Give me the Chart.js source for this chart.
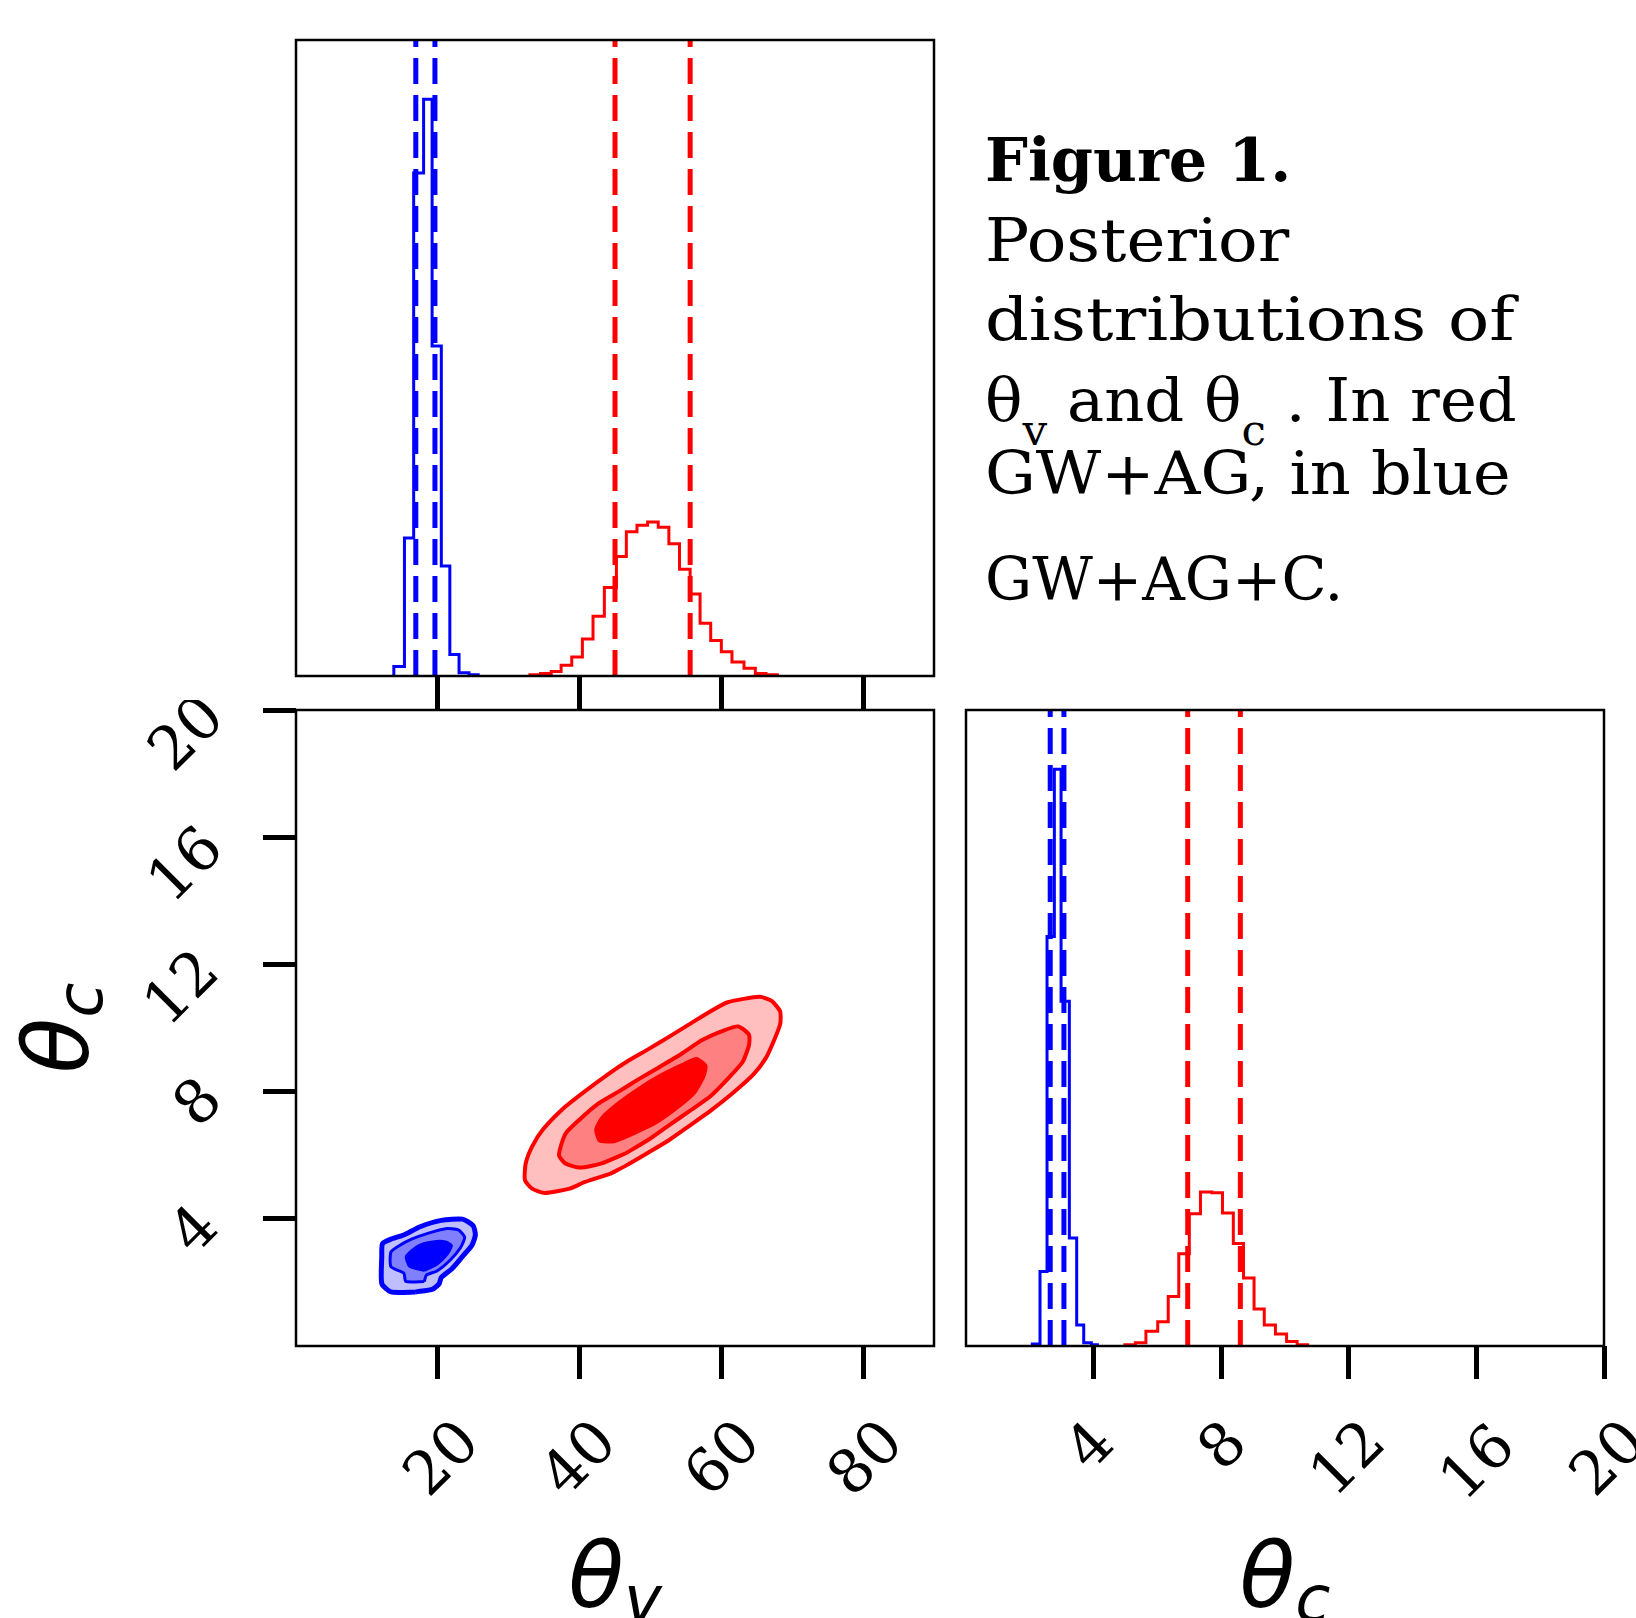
<!DOCTYPE html>
<html>
<head>
<meta charset="utf-8">
<script src="https://cdn.jsdelivr.net/npm/chart.js@4.4.1/dist/chart.umd.min.js"></script>
<style>
html, body { margin: 0; padding: 0; background: #fff; }
body { width: 1636px; height: 1618px; position: relative; overflow: hidden; }
canvas { position: absolute; }
.cap { position: absolute; left: 985px; white-space: nowrap; font-family: "DejaVu Serif"; font-size: 60px; line-height: 60px; color: #000; transform-origin: 0 0; }
.cap sub { font-size: 42px; position: relative; top: 24px; vertical-align: baseline; }
</style>
</head>
<body>
<canvas id="histV" width="946" height="710" style="left:0;top:0"></canvas>
<canvas id="joint" width="946" height="918" style="left:0;top:700px"></canvas>
<canvas id="histC" width="690" height="918" style="left:946px;top:700px"></canvas>

<div class="cap" data-w="306" style="top:130px;font-weight:bold">Figure 1.</div>
<div class="cap" data-w="304" style="top:210px">Posterior</div>
<div class="cap" data-w="530" style="top:289px">distributions of</div>
<div class="cap" data-w="532" style="top:370px">θ<sub>v</sub> and θ<sub>c</sub> . In red</div>
<div class="cap" data-w="526" style="top:443px">GW+AG, in blue</div>
<div class="cap" data-w="358" style="top:549px">GW+AG+C.</div>

<script>
// tick values
var thetaVTicks = [20, 40, 60, 80];
var thetaCTicks = [4, 8, 12, 16, 20];

// theta_v marginal histograms (bin edges, heights as fraction of panel height)
var tvBlueEdges = [13.8, 15.3, 16.6, 18.0, 19.2, 20.5, 21.7, 23.0, 24.4, 25.7];
var tvBlueHeights = [0.015, 0.217, 0.791, 0.907, 0.519, 0.173, 0.034, 0.005, 0.002];
var tvRedEdges = [33.0, 34.5, 36.0, 37.4, 38.9, 40.4, 41.9, 43.5, 45.2, 46.6, 48.1, 49.6,
                  51.1, 52.6, 54.1, 55.6, 57.0, 58.5, 60.0, 61.5, 63.2, 64.8, 66.3, 67.9];
var tvRedHeights = [0.002, 0.004, 0.007, 0.017, 0.030, 0.058, 0.094, 0.139, 0.188, 0.227, 0.237, 0.242,
                    0.234, 0.208, 0.168, 0.129, 0.083, 0.056, 0.038, 0.022, 0.012, 0.004, 0.002];

// theta_c marginal histograms
var tcBlueEdges = [2.08, 2.32, 2.54, 2.77, 2.98, 3.24, 3.47, 3.69, 3.93, 4.12];
var tcBlueHeights = [0.003, 0.117, 0.644, 0.907, 0.542, 0.170, 0.033, 0.005, 0.002];
var tcRedEdges = [4.98, 5.31, 5.64, 6.01, 6.34, 6.67, 7.00, 7.35, 7.71, 8.04, 8.38, 8.70,
                  9.03, 9.35, 9.70, 10.05, 10.38, 10.71];
var tcRedHeights = [0.002, 0.005, 0.023, 0.038, 0.078, 0.145, 0.208, 0.242, 0.241, 0.209, 0.161,
                    0.107, 0.058, 0.033, 0.019, 0.007, 0.002];

// quantile lines
var tvBlueQ = [16.9, 19.6];
var tvRedQ = [45.0, 55.6];
var tcBlueQ = [2.64, 3.07];
var tcRedQ = [6.95, 8.6];

// 2D credible contours [theta_v, theta_c]
var redOuter = [[44.3,5.41],[46.6,5.68],[49.6,6.07],[52.6,6.47],[55.6,6.94],[58.5,7.40],[61.5,7.93],
  [64.5,8.53],[66.3,9.06],[67.4,9.59],[68.3,10.12],[68.3,10.52],[67.1,10.85],[65.4,10.98],[60.9,10.81],
  [57.9,10.45],[55.0,10.05],[52.6,9.72],[49.6,9.32],[46.6,8.93],[44.3,8.59],[40.7,8.00],[37.7,7.47],
  [34.8,6.80],[33.3,6.27],[32.4,5.74],[32.3,5.21],[33.3,4.95],[35.1,4.81],[38.6,4.95],[40.7,5.15],[44.3,5.41]];
var redMid = [[46.6,6.07],[49.6,6.47],[52.6,6.94],[55.6,7.40],[58.5,7.86],[60.9,8.40],[63.0,8.93],
  [63.9,9.46],[63.9,9.79],[62.4,10.05],[60.3,9.92],[57.3,9.62],[54.4,9.19],[51.4,8.79],[48.4,8.40],
  [45.5,8.00],[42.5,7.60],[40.1,7.14],[38.0,6.67],[37.1,6.01],[38.0,5.74],[40.1,5.61],[43.1,5.74],[46.6,6.07]];
var redIn = [[47.8,6.67],[50.8,7.00],[53.8,7.47],[56.2,7.93],[57.6,8.46],[57.9,8.82],[56.5,9.06],
  [54.4,8.86],[51.4,8.53],[48.4,8.13],[45.5,7.67],[43.1,7.20],[42.2,6.80],[42.8,6.43],[44.9,6.41],[47.8,6.67]];
var blueOuter = [[16.9,1.70],[19.3,1.79],[20.2,1.96],[20.5,2.16],[22.0,2.43],[23.5,2.82],[24.8,3.16],
  [25.3,3.49],[25.0,3.78],[23.5,3.99],[20.5,3.95],[17.5,3.75],[15.2,3.49],[13.4,3.36],[12.2,3.22],
  [12.1,2.82],[12.1,1.96],[13.4,1.70],[16.9,1.70]];
var blueMid = [[18.1,2.03],[18.4,2.23],[19.9,2.36],[21.7,2.69],[23.2,3.09],[23.8,3.42],[22.9,3.65],
  [21.1,3.69],[18.7,3.55],[16.3,3.36],[14.6,3.16],[13.4,2.96],[13.4,2.49],[15.2,2.29],[15.5,2.03],[18.1,2.03]];
var blueIn = [[18.1,2.36],[19.9,2.56],[21.4,2.89],[22.0,3.16],[21.1,3.29],[19.3,3.29],[17.2,3.16],
  [15.5,2.82],[16.0,2.49],[18.1,2.36]];

var BLUE = "#0000ff", RED = "#ff0000";
var TICK_FONT = '60px "DejaVu Serif", "Liberation Serif", serif';

function histPoints(edges, heights) {
  var pts = [{x: edges[0], y: 0}];
  heights.forEach(function(h, i) { pts.push({x: edges[i], y: h}); });
  pts.push({x: edges[edges.length - 1], y: 0});
  return pts;
}

function histSet(edges, heights, color) {
  return {data: histPoints(edges, heights), showLine: true, stepped: true, borderColor: color,
          borderWidth: 3, pointRadius: 0, fill: false};
}

function qSets(qs, color) {
  return qs.map(function(q) {
    return {data: [{x: q, y: 0}, {x: q, y: 1}], showLine: true, borderColor: color, borderWidth: 5,
            borderDash: [26, 11], pointRadius: 0, fill: false};
  });
}

function contourSet(poly, fillColor, lineColor, width, order) {
  return {data: poly.map(function(p) { return {x: p[0], y: p[1]}; }), showLine: true, tension: 0.2,
          fill: "shape", backgroundColor: fillColor, borderColor: lineColor, borderWidth: width,
          pointRadius: 0, order: order};
}

function fixedTicks(vals) {
  return function(scale) { scale.ticks = vals.map(function(v) { return {value: v}; }); };
}

var tickGrid = {drawOnChartArea: false, drawTicks: true, tickLength: 33, tickWidth: 5, tickColor: "#000"};

// black box round the plot area
var framePlugin = {
  id: "frame",
  afterDatasetsDraw: function(chart) {
    var a = chart.chartArea, ctx = chart.ctx;
    ctx.save();
    ctx.strokeStyle = "#000";
    ctx.lineWidth = 2.5;
    ctx.strokeRect(a.left, a.top, a.right - a.left, a.bottom - a.top);
    ctx.restore();
  }
};

// ink box of a label turned 45 degrees, relative to its anchor
var inkCache = {};
function inkBox(text) {
  if (inkCache[text]) return inkCache[text];
  var S = 300, c = document.createElement("canvas");
  c.width = S; c.height = S;
  var g = c.getContext("2d");
  g.font = TICK_FONT;
  g.textAlign = "right";
  g.textBaseline = "alphabetic";
  g.translate(S / 2, S / 2);
  g.rotate(-Math.PI / 4);
  g.fillText(text, 0, 0);
  var d = g.getImageData(0, 0, S, S).data;
  var x0 = S, y0 = S, x1 = 0, y1 = 0;
  for (var y = 0; y < S; y++) {
    for (var x = 0; x < S; x++) {
      if (d[(y * S + x) * 4 + 3] > 80) {
        if (x < x0) x0 = x;
        if (x > x1) x1 = x;
        if (y < y0) y0 = y;
        if (y > y1) y1 = y;
      }
    }
  }
  inkCache[text] = {left: x0 - S / 2, right: x1 + 1 - S / 2, top: y0 - S / 2, bottom: y1 + 1 - S / 2};
  return inkCache[text];
}

// tick labels rotated 45 degrees, as in matplotlib
var rotLabelPlugin = {
  id: "rotLabels",
  afterDraw: function(chart, args, opts) {
    var ctx = chart.ctx;
    ctx.save();
    ctx.font = TICK_FONT;
    ctx.fillStyle = "#000";
    ctx.textAlign = "right";
    ctx.textBaseline = "alphabetic";
    (opts.axes || []).forEach(function(ax) {
      var scale = chart.scales[ax.id];
      ax.values.forEach(function(v) {
        var lab = String(v), b = inkBox(lab);
        var p = scale.getPixelForValue(v), px, py;
        if (ax.id === "x") {
          px = p - (b.left + b.right) / 2;
          py = ax.top - b.top;
        } else {
          px = ax.right - b.right;
          py = p + ax.dy - b.top;
        }
        ctx.save();
        ctx.translate(px, py);
        ctx.rotate(-Math.PI / 4);
        ctx.fillText(lab, 0, 0);
        ctx.restore();
      });
    });
    ctx.restore();
  }
};

function drawSymbol(ctx, cx, base, sub) {
  ctx.font = 'oblique 91px "DejaVu Sans"';
  var w1 = ctx.measureText("θ").width;
  ctx.font = 'oblique 64px "DejaVu Sans"';
  var w2 = ctx.measureText(sub).width;
  var x0 = cx - (w1 + w2) / 2;
  ctx.font = 'oblique 91px "DejaVu Sans"';
  ctx.fillText("θ", x0, base);
  ctx.font = 'oblique 64px "DejaVu Sans"';
  ctx.fillText(sub, x0 + w1, base + 14);
}

var titlePlugin = {
  id: "axisTitles",
  afterDraw: function(chart, args, opts) {
    var ctx = chart.ctx, a = chart.chartArea;
    ctx.save();
    ctx.fillStyle = "#000";
    ctx.textAlign = "left";
    ctx.textBaseline = "alphabetic";
    if (opts.xSub) drawSymbol(ctx, (a.left + a.right) / 2, opts.xBase, opts.xSub);
    if (opts.ySub) {
      ctx.translate(opts.yBase, (a.top + a.bottom) / 2);
      ctx.rotate(-Math.PI / 2);
      drawSymbol(ctx, 0, 0, opts.ySub);
    }
    ctx.restore();
  }
};

Chart.defaults.animation = false;
Chart.defaults.plugins.legend.display = false;
Chart.defaults.plugins.tooltip.enabled = false;

// top left: theta_v marginal
new Chart(document.getElementById("histV"), {
  type: "scatter",
  data: {datasets: [histSet(tvBlueEdges, tvBlueHeights, BLUE), histSet(tvRedEdges, tvRedHeights, RED)]
    .concat(qSets(tvBlueQ, BLUE), qSets(tvRedQ, RED))},
  options: {
    responsive: false,
    layout: {padding: {left: 296, right: 12, top: 40, bottom: 0}},
    scales: {
      x: {type: "linear", min: 0, max: 90, afterBuildTicks: fixedTicks(thetaVTicks),
          ticks: {display: false}, grid: tickGrid, border: {display: false},
          afterFit: function(s) { s.height = 34; }},
      y: {display: false, min: 0, max: 1}
    }
  },
  plugins: [framePlugin]
});

// bottom left: joint posterior
new Chart(document.getElementById("joint"), {
  type: "scatter",
  data: {datasets: [
    contourSet(redOuter, "#ffbfbf", RED, 4, 6),
    contourSet(redMid, "#ff8080", RED, 4, 5),
    contourSet(redIn, RED, RED, 2, 4),
    contourSet(blueOuter, "#bfbfff", BLUE, 5, 3),
    contourSet(blueMid, "#8080ff", BLUE, 3, 2),
    contourSet(blueIn, BLUE, BLUE, 2, 1)
  ]},
  options: {
    responsive: false,
    layout: {padding: {left: 0, right: 12, top: 10, bottom: 0}},
    scales: {
      x: {type: "linear", min: 0, max: 90, afterBuildTicks: fixedTicks(thetaVTicks),
          ticks: {display: false}, grid: tickGrid, border: {display: false},
          afterFit: function(s) { s.height = 272; }},
      y: {type: "linear", position: "left", min: 0, max: 20, afterBuildTicks: fixedTicks(thetaCTicks),
          ticks: {display: false}, grid: tickGrid, border: {display: false},
          afterFit: function(s) { s.width = 296; }}
    },
    plugins: {
      rotLabels: {axes: [{id: "x", values: thetaVTicks, top: 723}, {id: "y", values: thetaCTicks, right: 218, dy: -12}]},
      axisTitles: {xSub: "v", xBase: 907, ySub: "c", yBase: 88}
    }
  },
  plugins: [framePlugin, rotLabelPlugin, titlePlugin]
});

// bottom right: theta_c marginal
new Chart(document.getElementById("histC"), {
  type: "scatter",
  data: {datasets: [histSet(tcBlueEdges, tcBlueHeights, BLUE), histSet(tcRedEdges, tcRedHeights, RED)]
    .concat(qSets(tcBlueQ, BLUE), qSets(tcRedQ, RED))},
  options: {
    responsive: false,
    layout: {padding: {left: 20, right: 32, top: 10, bottom: 0}},
    scales: {
      x: {type: "linear", min: 0, max: 20, afterBuildTicks: fixedTicks(thetaCTicks),
          ticks: {display: false}, grid: tickGrid, border: {display: false},
          afterFit: function(s) { s.height = 272; }},
      y: {display: false, min: 0, max: 1}
    },
    plugins: {
      rotLabels: {axes: [{id: "x", values: thetaCTicks, top: 723}]},
      axisTitles: {xSub: "c", xBase: 907}
    }
  },
  plugins: [framePlugin, rotLabelPlugin, titlePlugin]
});

// squeeze or widen each caption line to the width it has in the reference
document.querySelectorAll(".cap").forEach(function(el) {
  var k = Number(el.dataset.w) / el.offsetWidth;
  el.style.transform = "scaleX(" + k + ")";
});
</script>
</body>
</html>
